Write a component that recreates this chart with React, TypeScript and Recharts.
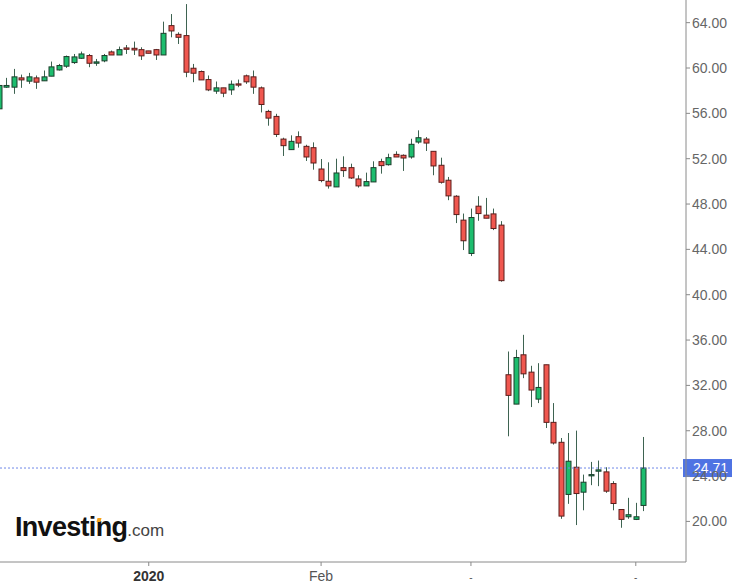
import { Bar, ComposedChart, ReferenceLine, XAxis, YAxis } from "recharts";

// daily candles (oldest first)
const opens = [
  56.4, 58.31, 58.31, 59.13, 58.84, 59.13, 58.87, 59.28, 59.83, 60.16,
  60.48, 60.86, 61.1, 60.42, 60.63, 61.42, 61.15, 61.77, 61.74, 61.62,
  61.51, 61.62, 61.15, 63.74, 62.97, 62.86, 59.98, 59.69, 58.98, 57.96,
  58.25, 58.07, 58.6, 59.31, 59.22, 58.25, 56.17, 55.73, 53.73, 52.8,
  53.94, 53.09, 52.97, 51.09, 50.01, 49.51, 51.21, 51.21, 50.21, 49.6,
  49.95, 51.74, 51.47, 52.38, 52.3, 52.15, 53.47, 53.73, 52.65, 51.42,
  50.1, 48.69, 46.58, 43.64, 47.81, 47.02, 47.13, 46.14, 32.94, 30.35,
  34.7, 33.17, 30.79, 33.82, 28.74, 26.98, 22.38, 24.78, 22.58, 24.02,
  24.43, 24.37, 23.34, 21.05, 20.41, 20.18, 21.41,
];
const highs = [
  58.5, 59.13, 59.92, 59.42, 59.57, 59.34, 59.78, 60.57, 60.36, 61.1,
  61.24, 61.45, 61.24, 60.8, 61.24, 61.54, 61.89, 62.03, 62.33, 61.83,
  61.51, 61.68, 64.09, 64.76, 63.15, 65.64, 60.36, 59.78, 59.34, 58.81,
  58.25, 58.9, 58.98, 59.42, 59.78, 58.37, 56.31, 55.96, 53.85, 54.06,
  54.41, 53.23, 53.44, 51.97, 51.68, 52.0, 52.21, 51.56, 50.54, 50.77,
  51.77, 52.0, 52.44, 52.65, 52.38, 53.76, 54.5, 53.91, 52.65, 52.09,
  50.39, 48.78, 47.16, 47.6, 48.69, 48.54, 47.6, 46.49, 34.99, 35.14,
  36.46, 33.73, 33.96, 33.82, 30.44, 27.36, 27.8, 28.01, 24.13, 25.25,
  25.37, 24.78, 23.55, 21.05, 22.08, 21.64, 27.45,
];
const lows = [
  56.3, 58.25, 57.72, 58.25, 58.6, 58.16, 58.87, 59.28, 59.78, 60.01,
  60.36, 60.8, 60.07, 60.19, 60.51, 61.15, 61.15, 61.24, 61.15, 60.71,
  61.3, 60.71, 61.15, 62.71, 62.12, 59.19, 58.75, 58.95, 57.96, 57.72,
  57.43, 57.63, 58.31, 58.6, 57.72, 56.08, 54.91, 53.91, 52.24, 52.8,
  52.97, 51.8, 51.03, 49.92, 49.36, 49.51, 50.39, 50.21, 49.45, 49.6,
  49.95, 50.68, 51.39, 52.15, 50.92, 52.0, 53.32, 52.68, 50.54, 49.8,
  48.34, 46.32, 43.94, 43.41, 46.52, 46.75, 45.7, 41.15, 27.51, 30.35,
  32.64, 30.09, 30.44, 28.24, 26.78, 20.23, 21.55, 19.68, 20.98, 23.2,
  23.11, 22.52, 20.98, 19.44, 20.23, 20.12, 20.91,
];
const closes = [
  58.46, 58.46, 59.22, 58.95, 59.22, 58.75, 59.22, 60.1, 60.22, 61.01,
  60.98, 61.24, 60.42, 60.54, 61.1, 61.15, 61.62, 61.65, 61.59, 61.07,
  61.3, 61.15, 63.06, 63.27, 62.71, 59.63, 59.54, 58.95, 58.07, 58.25,
  57.78, 58.57, 58.49, 58.78, 58.31, 56.78, 55.58, 54.14, 53.15, 53.53,
  53.38, 52.15, 51.62, 50.07, 49.6, 50.74, 50.95, 50.3, 49.6, 49.98,
  51.21, 51.39, 52.09, 52.15, 52.06, 53.27, 53.85, 53.38, 51.36, 49.92,
  48.72, 47.07, 44.76, 46.81, 47.16, 46.75, 45.84, 41.24, 31.12, 34.46,
  33.02, 31.59, 31.82, 28.74, 26.92, 20.47, 25.31, 22.46, 23.46, 24.13,
  24.55, 22.67, 21.58, 20.18, 20.59, 20.41, 24.71,
];

const lastPrice = 24.71;
const priceTicks = [20, 24, 28, 32, 36, 40, 44, 48, 52, 56, 60, 64];
const dateTickIndex = [20, 43, 63, 85];
const dateTickLabels = ["2020", "Feb", "-", "-"];

const data = opens.map((o, i) => ({
  i,
  o,
  h: highs[i],
  l: lows[i],
  c: closes[i],
  range: [lows[i], highs[i]],
}));

const FONT = '"Liberation Sans", Arial, sans-serif';

function Candle(props: any) {
  const { x, y, width, height, payload } = props;
  if (x == null || !payload) return null;
  const { o, h, l, c } = payload;
  const cx = Math.round(x + width / 2);
  const py = (v: number) => y + ((h - v) / (h - l)) * height;
  const up = c >= o;
  const top = py(Math.max(o, c));
  const bh = Math.max(py(Math.min(o, c)) - top, 1);
  return (
    <g>
      <line x1={cx + 0.5} x2={cx + 0.5} y1={py(h)} y2={py(l)} stroke="#3e6351" />
      <rect
        x={cx - 2}
        y={top}
        width={5}
        height={bh}
        fill={up ? "#1dbd6e" : "#f0574f"}
        stroke={up ? "#1c3d2b" : "#5c1d1b"}
      />
    </g>
  );
}

function DateTick(props: any) {
  const { x, y, payload } = props;
  const label = dateTickLabels[dateTickIndex.indexOf(payload.value)];
  const bold = label === "2020";
  return (
    <text
      x={x}
      y={y + 13}
      textAnchor="middle"
      fontSize={label === "-" ? 10 : 14}
      fontWeight={bold ? "bold" : "normal"}
      fill={bold ? "#333" : "#555"}
      fontFamily={FONT}
    >
      {label}
    </text>
  );
}

function PriceTag(props: any) {
  const vb = props.viewBox;
  if (!vb) return null;
  const right = vb.x + vb.width;
  return (
    <g>
      <rect x={right - 3} y={vb.y - 9} width={50} height={18} fill="#4f73e3" />
      <text x={right + 7} y={vb.y + 5} fill="#fff" fontSize={14} fontFamily={FONT}>
        {lastPrice.toFixed(2)}
      </text>
    </g>
  );
}

export default function App() {
  return (
    <div style={{ position: "absolute", left: 0, top: 0, width: 732, height: 583, background: "#fff", fontFamily: FONT }}>
      <ComposedChart width={732} height={583} data={data} margin={{ top: 0, right: 0, left: 0, bottom: 0 }}>
        <XAxis
          dataKey="i"
          type="number"
          domain={[0.15, 91.7]}
          allowDataOverflow
          ticks={dateTickIndex}
          interval={0}
          height={21}
          tickSize={4}
          stroke="#8a8a8a"
          tick={<DateTick />}
        />
        <YAxis
          orientation="right"
          width={46}
          domain={[16.42, 66.0]}
          ticks={priceTicks}
          interval={0}
          tickSize={4}
          tickMargin={2}
          stroke="#8a8a8a"
          tickFormatter={(v: number) => v.toFixed(2)}
          tick={{ fill: "#666", fontSize: 14, fontFamily: FONT, textAnchor: "start" }}
        />
        <Bar dataKey="range" barSize={5} shape={<Candle />} isAnimationActive={false} />
        <ReferenceLine
          y={lastPrice}
          stroke="#6f88e8"
          strokeDasharray="2 2"
          label={<PriceTag />}
        />
      </ComposedChart>
      <div style={{ position: "absolute", left: 15, top: 514, lineHeight: 1, whiteSpace: "nowrap" }}>
        <span style={{ fontSize: 27, fontWeight: "bold", color: "#111", letterSpacing: -0.7 }}>Investing</span>
        <span style={{ fontSize: 17, color: "#444" }}>.com</span>
        <span
          style={{
            position: "absolute",
            left: 82,
            top: 4,
            width: 4,
            height: 4,
            background: "#f5a21b",
            transform: "skewX(-15deg)",
          }}
        />
      </div>
    </div>
  );
}
